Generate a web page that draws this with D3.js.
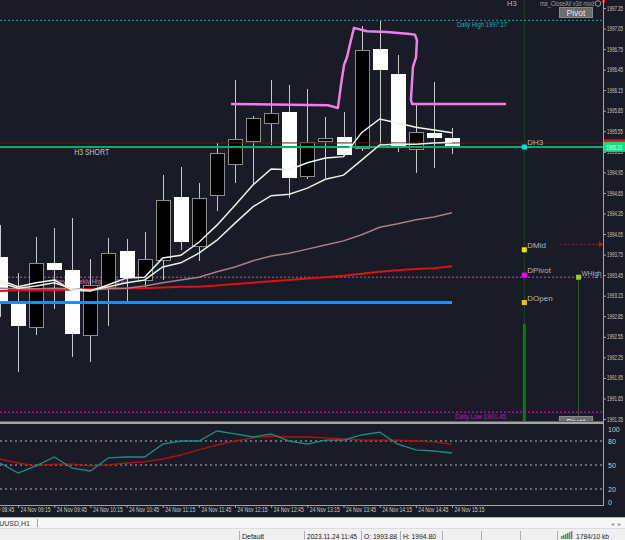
<!DOCTYPE html>
<html lang="en">
<head>
<meta charset="UTF-8">
<title>XAUUSD,H1</title>
<script src="https://cdn.jsdelivr.net/npm/d3@7"></script>
<style>
    body { margin: 0; background: #f0f0f0; overflow: hidden; }
    svg { display: block; }
    text { font-family: "Liberation Sans", Arial, sans-serif; }
</style>
</head>
<body>
<script type="text/javascript">
    var width = 625;
    var height = 540;

    // time labels on the bottom axis, one every second bar (bar -1 is just off screen)
    var timeLabels = ["24 Nov 08:45", "24 Nov 09:15", "24 Nov 09:45", "24 Nov 10:15", "24 Nov 10:45",
        "24 Nov 11:15", "24 Nov 11:45", "24 Nov 12:15", "24 Nov 12:45", "24 Nov 13:15",
        "24 Nov 13:45", "24 Nov 14:15", "24 Nov 14:45", "24 Nov 15:15"];
    var labelBars = [-1, 1, 3, 5, 7, 9, 11, 13, 15, 17, 19, 21, 23, 25];

    var priceTicks = [1997.35, 1997.05, 1996.75, 1996.45, 1996.15, 1995.85, 1995.55, 1995.25, 1994.95,
        1994.65, 1994.35, 1994.05, 1993.75, 1993.45, 1993.15, 1992.85, 1992.55, 1992.25, 1991.95,
        1991.65, 1991.35];
    var oscTicks = [100, 80, 50, 20, 0];
    var oscLevels = [80, 50, 20];

    // candles, bar 0 = 09:00 ... bar 25 = 15:15
    var opens = [1993.72, 1993.03, 1992.69, 1993.63, 1993.53, 1992.58, 1993.28, 1993.80, 1993.39, 1993.67,
        1994.59, 1993.88, 1994.61, 1995.07, 1995.41, 1995.67, 1995.83, 1994.90, 1995.41, 1995.47,
        1995.31, 1996.75, 1996.39, 1995.29, 1995.53, 1995.45];
    var highs = [1994.18, 1993.48, 1994.01, 1994.14, 1994.28, 1993.69, 1993.99, 1993.98, 1994.08, 1994.91,
        1995.03, 1994.80, 1995.38, 1996.30, 1995.77, 1996.30, 1996.23, 1996.17, 1995.76, 1995.83,
        1997.09, 1997.16, 1996.66, 1995.96, 1996.27, 1995.60];
    var lows = [1992.84, 1992.04, 1992.58, 1992.96, 1992.26, 1992.18, 1992.71, 1993.07, 1993.26, 1993.38,
        1993.82, 1993.66, 1994.39, 1994.80, 1994.77, 1995.35, 1994.58, 1994.85, 1994.87, 1995.19,
        1995.26, 1995.35, 1995.25, 1994.94, 1995.01, 1995.22];
    var closes = [1993.07, 1992.72, 1993.63, 1993.54, 1992.61, 1993.31, 1993.77, 1993.42, 1993.69, 1994.55,
        1993.95, 1994.58, 1995.23, 1995.44, 1995.74, 1995.82, 1994.88, 1995.39, 1995.45, 1995.22,
        1996.74, 1996.46, 1995.34, 1995.54, 1995.47, 1995.33];

    // moving averages
    var maFast = [1993.38, 1993.28, 1993.34, 1993.38, 1993.23, 1993.22, 1993.31, 1993.41, 1993.42, 1993.70,
        1993.74, 1993.93, 1994.18, 1994.47, 1994.77, 1995.00, 1994.99, 1995.09, 1995.16, 1995.18,
        1995.53, 1995.73, 1995.67, 1995.61, 1995.57, 1995.53];
    var maSlow = [1993.34, 1993.26, 1993.29, 1993.34, 1993.25, 1993.23, 1993.28, 1993.34, 1993.38, 1993.57,
        1993.63, 1993.77, 1993.96, 1994.21, 1994.45, 1994.61, 1994.63, 1994.72, 1994.85, 1994.91,
        1995.13, 1995.35, 1995.36, 1995.36, 1995.38, 1995.39];
    var maMid = [1993.26, 1993.25, 1993.25, 1993.26, 1993.25, 1993.23, 1993.25, 1993.26, 1993.29, 1993.34,
        1993.38, 1993.42, 1993.50, 1993.57, 1993.66, 1993.73, 1993.77, 1993.83, 1993.89, 1993.95,
        1994.04, 1994.15, 1994.20, 1994.26, 1994.30, 1994.36];
    var maLong = [1993.22, 1993.23, 1993.23, 1993.23, 1993.24, 1993.25, 1993.26, 1993.26, 1993.26, 1993.27,
        1993.28, 1993.28, 1993.30, 1993.32, 1993.34, 1993.36, 1993.38, 1993.40, 1993.42, 1993.44,
        1993.47, 1993.50, 1993.52, 1993.54, 1993.55, 1993.58];

    // oscillator sub window
    var oscMain = [52.5, 40, 49, 60, 46, 42.5, 59, 60, 60, 76, 80, 80, 92.5, 89, 85, 89, 80, 76, 81, 81,
        87.5, 91, 76, 69, 67.5, 65];
    var oscSignal = [57.5, 52.5, 49, 51, 51, 49, 50, 52.5, 54, 57.5, 62.5, 69, 75, 80, 84, 86, 85, 85, 84,
        82.5, 81, 81, 81, 80, 79, 76];

    // hand drawn box (bar position, price)
    var drawBars = [12.78, 18.14, 18.69, 18.86, 19.03, 19.19, 19.41, 19.58, 20.30, 21.40, 22.68, 22.95,
        23.06, 23.01, 22.84, 22.73, 22.79, 27.99];
    var drawPrices = [1995.95, 1995.93, 1995.89, 1996.23, 1996.52, 1996.63, 1996.88, 1997.06, 1997.01,
        1997.00, 1996.97, 1996.96, 1996.88, 1996.63, 1996.49, 1996.01, 1995.95, 1995.95];

    // levels
    var dailyHigh = 1997.17;
    var dailyLow = 1991.45;
    var weeklyHigh = 1993.42;
    var h3Level = 1995.32;
    var askLevel = 1995.38;
    var dayOpen = 1993.05;
    var bidPrice = 1995.33;
    var pivotNames = ['DH3', 'DMid', 'DPivot', 'DOpen'];
    var pivotPrices = [1995.32, 1993.82, 1993.45, 1993.05];
    var pivotColors = ['#00e0e8', '#f2e600', '#ff00ff', '#f2c400'];
    var pivotBar = 29;
    var weekBar = 32;
    var arrowPrice = 1993.90;
    var openSegTop = 1992.74;

    var plotRight = 603;
    var plotBottom = 421;

    var x = d3.scaleLinear().domain([0, 25]).range([0, 452]);
    var y = d3.scaleLinear().domain([1991.35, 1997.35]).range([419, 8]);
    var yo = d3.scaleLinear().domain([0, 100]).range([505, 425]);

    var svg = d3.select('body').append('svg')
            .attr('width', width)
            .attr('height', height);

    svg.append('rect').attr('width', width).attr('height', 517).attr('fill', '#191c26');

    var defs = svg.append('defs');
    defs.append('clipPath').attr('id', 'clipMain')
            .append('rect').attr('x', 0).attr('y', 0).attr('width', plotRight).attr('height', plotBottom);
    defs.append('clipPath').attr('id', 'clipSub')
            .append('rect').attr('x', 0).attr('y', 424).attr('width', plotRight).attr('height', 81);

    var main = svg.append('g').attr('clip-path', 'url(#clipMain)');

    function hline(g, price, color, w, dash, x0, x1) {
        g.append('line')
                .attr('x1', x0 === undefined ? 0 : x0)
                .attr('x2', x1 === undefined ? plotRight : x1)
                .attr('y1', y(price))
                .attr('y2', y(price))
                .attr('stroke', color)
                .attr('stroke-width', w)
                .attr('stroke-dasharray', dash || null);
    }

    // vertical day lines
    main.append('line')
            .attr('x1', x(pivotBar)).attr('x2', x(pivotBar))
            .attr('y1', 0).attr('y2', plotBottom)
            .attr('stroke', '#1c4424').attr('stroke-width', 1);
    main.append('line')
            .attr('x1', x(pivotBar)).attr('x2', x(pivotBar))
            .attr('y1', y(openSegTop)).attr('y2', plotBottom)
            .attr('stroke', '#0b7a12').attr('stroke-width', 3);
    main.append('line')
            .attr('x1', x(weekBar)).attr('x2', x(weekBar))
            .attr('y1', y(weeklyHigh)).attr('y2', plotBottom)
            .attr('stroke', '#2c5a26').attr('stroke-width', 1);

    // weekly high and its label sit behind the candles
    hline(main, weeklyHigh, '#b0609c', 1, '2,2');
    main.append('text')
            .attr('x', x(2.95)).attr('y', y(weeklyHigh) + 6.5)
            .attr('font-size', 7).attr('fill', '#d070b4')
            .attr('textLength', 74).attr('lengthAdjust', 'spacingAndGlyphs')
            .text('Prev / Weekly High ' + weeklyHigh.toFixed(2));

    hline(main, dailyHigh, '#0aa6b8', 1, '2,2');
    hline(main, dailyLow, '#b800b8', 1.5, '2,2');

    // candles
    var bars = d3.range(opens.length);
    var cg = main.append('g').attr('shape-rendering', 'crispEdges');
    cg.selectAll('line')
            .data(bars)
            .enter()
            .append('line')
            .attr('x1', function (i) { return Math.round(x(i)) + 0.5; })
            .attr('x2', function (i) { return Math.round(x(i)) + 0.5; })
            .attr('y1', function (i) { return y(highs[i]); })
            .attr('y2', function (i) { return y(lows[i]); })
            .attr('stroke', '#c8c8c8');
    cg.selectAll('rect')
            .data(bars)
            .enter()
            .append('rect')
            .attr('x', function (i) { return Math.round(x(i)) - 6.5; })
            .attr('width', 14)
            .attr('y', function (i) { return Math.round(y(Math.max(opens[i], closes[i]))) + 0.5; })
            .attr('height', function (i) {
                return Math.max(2, Math.round(y(Math.min(opens[i], closes[i])) - y(Math.max(opens[i], closes[i]))));
            })
            .attr('fill', function (i) { return closes[i] >= opens[i] ? '#000000' : '#ffffff'; })
            .attr('stroke', function (i) { return closes[i] >= opens[i] ? '#8c8c8c' : '#ffffff'; });

    // levels over the candles
    hline(main, dayOpen, '#1e8ef0', 3, null, 0, x(25));
    hline(main, askLevel, '#6e1818', 1);
    hline(main, h3Level, '#14a866', 2);

    var line = d3.line()
            .x(function (d, i) { return x(i); })
            .y(function (d) { return y(d); });

    main.append('path').attr('d', line(maLong)).attr('fill', 'none')
            .attr('stroke', '#d81414').attr('stroke-width', 2);
    main.append('path').attr('d', line(maMid)).attr('fill', 'none')
            .attr('stroke', '#a87c88').attr('stroke-width', 1.5);
    main.append('path').attr('d', line(maSlow)).attr('fill', 'none')
            .attr('stroke', '#e4f2e4').attr('stroke-width', 1.5);
    main.append('path').attr('d', line(maFast)).attr('fill', 'none')
            .attr('stroke', '#eef6ee').attr('stroke-width', 1.5);

    var drawLine = d3.line()
            .x(function (d) { return x(drawBars[d]); })
            .y(function (d) { return y(drawPrices[d]); });
    main.append('path').attr('d', drawLine(d3.range(drawBars.length)))
            .attr('fill', 'none').attr('stroke', '#ee7ee8').attr('stroke-width', 2.5)
            .attr('stroke-linejoin', 'round');

    // texts on the chart
    main.append('text').attr('x', x(4.1)).attr('y', y(h3Level) + 8)
            .attr('font-size', 8.5).attr('fill', '#c4c4c4')
            .attr('textLength', 35).attr('lengthAdjust', 'spacingAndGlyphs')
            .text('H3 SHORT');
    main.append('text').attr('x', x(25) + 5).attr('y', y(dailyHigh) + 7)
            .attr('font-size', 7).attr('fill', '#12b4c4')
            .attr('textLength', 50).attr('lengthAdjust', 'spacingAndGlyphs')
            .text('Daily High ' + dailyHigh.toFixed(2));
    main.append('text').attr('x', x(25) + 3).attr('y', y(dailyLow) + 7)
            .attr('font-size', 7).attr('fill', '#c010c0')
            .attr('textLength', 51).attr('lengthAdjust', 'spacingAndGlyphs')
            .text('Daily Low ' + dailyLow.toFixed(2));

    // red dotted arrow
    main.append('line')
            .attr('x1', x(31)).attr('x2', plotRight - 3)
            .attr('y1', y(arrowPrice)).attr('y2', y(arrowPrice))
            .attr('stroke', '#d01010').attr('stroke-width', 1).attr('stroke-dasharray', '2,2');
    main.append('path')
            .attr('d', 'M' + (plotRight - 4) + ',' + (y(arrowPrice) - 3) + 'L' + plotRight + ',' + y(arrowPrice)
                    + 'L' + (plotRight - 4) + ',' + (y(arrowPrice) + 3) + 'Z')
            .attr('fill', '#d01010');

    // pivot markers
    pivotPrices.forEach(function (p, i) {
        main.append('rect')
                .attr('x', x(pivotBar) - 2.5).attr('y', y(p) - 2.5)
                .attr('width', 5).attr('height', 5)
                .attr('fill', pivotColors[i]);
        main.append('text')
                .attr('x', x(pivotBar) + 3).attr('y', y(p) - 2)
                .attr('font-size', 8).attr('fill', '#b4b4b4')
                .text(pivotNames[i]);
    });
    main.append('rect')
            .attr('x', x(weekBar) - 2.5).attr('y', y(weeklyHigh) - 2.5)
            .attr('width', 5).attr('height', 5)
            .attr('fill', '#9ccc2c');
    main.append('text')
            .attr('x', x(weekBar) + 3).attr('y', y(weeklyHigh) - 1)
            .attr('font-size', 8).attr('fill', '#b4b4b4')
            .attr('textLength', 20).attr('lengthAdjust', 'spacingAndGlyphs')
            .text('WHigh');

    // top labels and buttons
    main.append('text').attr('x', 507).attr('y', 6)
            .attr('font-size', 7.5).attr('fill', '#b4b4b4').text('H3');
    main.append('text').attr('x', 540).attr('y', 6)
            .attr('font-size', 6.5).attr('fill', '#a0a0a0')
            .attr('textLength', 54).attr('lengthAdjust', 'spacingAndGlyphs')
            .text('ma_CloseAll v3d  mod');
    [[559, 7], [559, 416]].forEach(function (b) {
        main.append('rect').attr('x', b[0] + 0.5).attr('y', b[1] + 0.5)
                .attr('width', 33).attr('height', 10)
                .attr('fill', '#6c6c6c').attr('stroke', '#8a8a8a');
        main.append('text').attr('x', b[0] + 17).attr('y', b[1] + 8.5)
                .attr('text-anchor', 'middle')
                .attr('font-size', 8.5).attr('fill', '#e6e6e6').text('Pivot');
    });
    svg.append('circle').attr('cx', 598).attr('cy', 3.5).attr('r', 2.8)
            .attr('fill', 'none').attr('stroke', '#9a9a9a');
    svg.append('circle').attr('cx', 603.5).attr('cy', 1.5).attr('r', 1.6).attr('fill', '#ff2020');

    // price axis
    var yAxis = d3.axisRight(y)
            .tickValues(priceTicks)
            .tickSize(3)
            .tickPadding(1)
            .tickFormat(d3.format('.2f'));
    var ya = svg.append('g').attr('transform', 'translate(' + plotRight + ',0)').call(yAxis);
    ya.select('.domain').remove();
    ya.selectAll('line').attr('stroke', '#a8a8a8');
    ya.selectAll('text').attr('font-size', 6.5).attr('fill', '#c8c8c8')
            .attr('font-family', '"Liberation Sans", Arial, sans-serif')
            .attr('textLength', 16).attr('lengthAdjust', 'spacingAndGlyphs');

    // bid label
    svg.append('rect').attr('x', 604).attr('y', y(bidPrice) - 7).attr('width', 21).attr('height', 4)
            .attr('fill', '#e01414');
    svg.append('rect').attr('x', 604).attr('y', y(bidPrice) - 4.5).attr('width', 21).attr('height', 10)
            .attr('fill', '#18d884');
    svg.append('text').attr('x', 606).attr('y', y(bidPrice) + 3.2)
            .attr('font-size', 6.5).attr('fill', '#f4fff8')
            .attr('textLength', 16).attr('lengthAdjust', 'spacingAndGlyphs')
            .text(bidPrice.toFixed(2));

    // separator between windows
    svg.append('rect').attr('x', 0).attr('y', 421.5).attr('width', plotRight + 1).attr('height', 2.5)
            .attr('fill', '#a4a4a4');

    // oscillator window
    var sub = svg.append('g').attr('clip-path', 'url(#clipSub)');
    oscLevels.forEach(function (v) {
        sub.append('line')
                .attr('x1', 0).attr('x2', plotRight)
                .attr('y1', yo(v)).attr('y2', yo(v))
                .attr('stroke', '#b8b8b8').attr('stroke-dasharray', '2,3');
    });
    var oline = d3.line()
            .x(function (d, i) { return x(i); })
            .y(function (d) { return yo(d); });
    sub.append('path').attr('d', oline(oscSignal)).attr('fill', 'none')
            .attr('stroke', '#b41010').attr('stroke-width', 1.3);
    sub.append('path').attr('d', oline(oscMain)).attr('fill', 'none')
            .attr('stroke', '#1c8c8a').attr('stroke-width', 1.3);

    var oAxis = d3.axisRight(yo).tickValues(oscTicks).tickSize(0).tickPadding(5);
    var oa = svg.append('g').attr('transform', 'translate(' + plotRight + ',0)').call(oAxis);
    oa.select('.domain').remove();
    oa.selectAll('text').attr('font-size', 7).attr('fill', '#c8c8c8')
            .attr('font-family', '"Liberation Sans", Arial, sans-serif')
            .attr('dy', function (d) { return d === 100 ? '0.9em' : d === 0 ? '-0.1em' : '0.32em'; });

    // frame lines
    svg.append('line').attr('x1', plotRight + 0.5).attr('x2', plotRight + 0.5)
            .attr('y1', 0).attr('y2', 506).attr('stroke', '#a4a4a4');
    svg.append('line').attr('x1', 0).attr('x2', plotRight + 1)
            .attr('y1', 505.5).attr('y2', 505.5).attr('stroke', '#a4a4a4');

    // time axis
    var xAxis = d3.axisBottom(x)
            .tickValues(labelBars)
            .tickSize(3)
            .tickFormat(function (d, i) { return timeLabels[i]; });
    var xa = svg.append('g').attr('transform', 'translate(0,505)').call(xAxis);
    xa.select('.domain').remove();
    xa.selectAll('line').attr('stroke', '#a4a4a4');
    xa.selectAll('text')
            .attr('text-anchor', 'start')
            .attr('x', 2).attr('y', 2).attr('dy', '0.71em')
            .attr('font-size', 6.5).attr('fill', '#c8c8c8')
            .attr('font-family', '"Liberation Sans", Arial, sans-serif')
            .attr('textLength', 30).attr('lengthAdjust', 'spacingAndGlyphs');

    // tab bar and status bar
    svg.append('rect').attr('x', 0).attr('y', 517).attr('width', width).attr('height', 23).attr('fill', '#f0f0f0');
    svg.append('line').attr('x1', 0).attr('x2', width).attr('y1', 517.5).attr('y2', 517.5).attr('stroke', '#b4b4b4');
    svg.append('rect').attr('x', 0).attr('y', 518).attr('width', width).attr('height', 10).attr('fill', '#f7f7f7');
    svg.append('line').attr('x1', 0).attr('x2', width).attr('y1', 528.5).attr('y2', 528.5).attr('stroke', '#dcdcdc');
    svg.append('text').attr('x', 30).attr('y', 526).attr('text-anchor', 'end')
            .attr('font-size', 7).attr('fill', '#303030').text('XAUUSD,H1');
    svg.append('line').attr('x1', 37.5).attr('x2', 37.5).attr('y1', 519).attr('y2', 527).attr('stroke', '#a0a0a0');
    svg.append('text').attr('x', 611).attr('y', 526).attr('font-size', 6).attr('fill', '#909090').text('◂');
    svg.append('text').attr('x', 618).attr('y', 526).attr('font-size', 6).attr('fill', '#909090').text('▸');

    var statusTexts = ['Default', '2023.11.24 11:45', 'O: 1993.88', 'H: 1994.80', '1784/10 kb'];
    var statusX = [242, 307, 364, 403, 576];
    var statusW = [22, 50, 33, 33, 33];
    var statusSeps = [239, 304, 361, 400, 442, 481, 520, 557];
    statusSeps.forEach(function (s) {
        svg.append('line').attr('x1', s + 0.5).attr('x2', s + 0.5).attr('y1', 531).attr('y2', 540)
                .attr('stroke', '#b0b0b0');
    });
    statusTexts.forEach(function (t, i) {
        svg.append('text').attr('x', statusX[i]).attr('y', 539)
                .attr('font-size', 7.5).attr('fill', '#202020')
                .attr('textLength', statusW[i]).attr('lengthAdjust', 'spacingAndGlyphs')
                .text(t);
    });
    // connection icon
    [0, 1, 2, 3, 4, 5].forEach(function (k) {
        svg.append('rect').attr('x', 561 + k * 2).attr('y', 539 - (3 + k))
                .attr('width', 1.5).attr('height', 3 + k)
                .attr('fill', k < 4 ? '#3c9c3c' : '#808080');
    });
</script>
</body>
</html>
